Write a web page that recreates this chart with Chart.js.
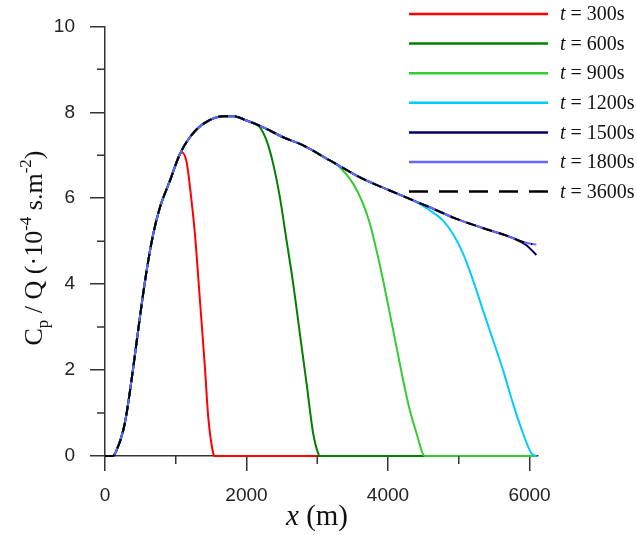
<!DOCTYPE html>
<html>
<head>
<meta charset="utf-8">
<script src="https://cdn.jsdelivr.net/npm/chart.js@4/dist/chart.umd.min.js"></script>
<style>
  body { margin: 0; background: #fff; }
  canvas { display: block; }
</style>
</head>
<body>
<canvas id="bieuDo" width="637" height="535"></canvas>
<script>
// envelope shared by all curves (x in m, y = Cp/Q in 1e-4 s.m-2)
const envX = [0, 110, 165, 258, 306, 400, 494, 589, 682, 777, 918, 1059, 1200, 1388, 1671, 1812, 2001, 2236, 2518, 2801, 3178, 3648, 4025, 4355, 4590, 4967, 5297, 5674, 5908, 6097];
const envY = [0, 0, 0.14, 0.60, 1.0, 2.07, 3.24, 4.32, 5.17, 5.79, 6.41, 7.03, 7.42, 7.73, 7.91, 7.91, 7.81, 7.65, 7.42, 7.23, 6.88, 6.45, 6.18, 5.95, 5.79, 5.52, 5.33, 5.13, 4.98, 4.90];

// where each curve leaves the envelope, and its own tail
const labels = ['300s', '600s', '900s', '1200s', '1500s', '1800s', '3600s'];
const colors = ['#ff0000', '#007f00', '#33cc33', '#00ccff', '#000066', '#6666ff', '#000000'];
const leaveAt = [1059, 2001, 3178, 4355, 5674, 5908, 5908];
const tailX = [
    [1083, 1154, 1201, 1271, 1342, 1412, 1459, 1530, 1554, 6097],
    [2189, 2284, 2377, 2472, 2566, 2660, 2754, 2849, 2942, 3013, 3037, 6097],
    [3319, 3507, 3648, 3743, 3837, 3931, 4025, 4120, 4213, 4308, 4403, 4520, 6097],
    [4590, 4778, 4919, 5061, 5202, 5343, 5484, 5626, 5767, 5908, 6027, 6097],
    [5815, 5960, 6097],
    [6097],
    [6040]
];
const tailY = [
    [7.07, 6.84, 6.26, 5.17, 3.62, 2.07, 0.91, 0.06, 0, 0],
    [7.65, 7.34, 6.80, 6.02, 5.02, 4.01, 2.85, 1.69, 0.53, 0.06, 0, 0],
    [6.72, 6.34, 5.87, 5.41, 4.79, 4.09, 3.32, 2.54, 1.77, 1.07, 0.53, 0, 0],
    [5.72, 5.48, 5.17, 4.71, 4.09, 3.39, 2.70, 2.00, 1.22, 0.53, 0.06, 0],
    [5.04, 4.90, 4.68],
    [4.92],
    [4.93]
];

const xTicks = [0, 2000, 4000, 6000];
const yTicks = [0, 2, 4, 6, 8, 10];
const xMinor = [1000, 3000, 5000];
const yMinor = [1, 3, 5, 7, 9];

function buildSeries(i) {
    let pts = [];
    for (let k = 0; k < envX.length; k++)
        if (envX[k] <= leaveAt[i]) pts.push({x: envX[k], y: envY[k]});
    for (let k = 0; k < tailX[i].length; k++)
        pts.push({x: tailX[i][k], y: tailY[i][k]});
    return pts;
}

const datasets = labels.map((lb, i) => ({
    label: 't = ' + lb,
    data: buildSeries(i),
    borderColor: colors[i],
    backgroundColor: colors[i],
    borderWidth: 2,
    borderDash: i === 6 ? [10, 7] : [],
    pointRadius: 0,
    cubicInterpolationMode: 'monotone',
    fill: false,
    clip: 6,
    order: labels.length - i
}));

const axisColor = '#333';

const decor = {
    id: 'decor',
    afterDraw(chart) {
        const ctx = chart.ctx;
        const xs = chart.scales.x, ys = chart.scales.y;
        const area = chart.chartArea;
        ctx.save();

        // minor ticks
        ctx.strokeStyle = axisColor;
        ctx.lineWidth = 1.5;
        ctx.beginPath();
        xMinor.forEach(v => {
            const px = xs.getPixelForValue(v);
            ctx.moveTo(px, area.bottom);
            ctx.lineTo(px, area.bottom + 8);
        });
        yMinor.forEach(v => {
            const py = ys.getPixelForValue(v);
            ctx.moveTo(area.left, py);
            ctx.lineTo(area.left - 8, py);
        });
        ctx.stroke();

        // legend
        ctx.textBaseline = 'middle';
        ctx.fillStyle = '#111';
        labels.forEach((lb, i) => {
            const y = 14 + i * 29.6;
            ctx.strokeStyle = colors[i];
            ctx.lineWidth = 2.5;
            ctx.setLineDash(i === 6 ? [19, 11] : []);
            ctx.beginPath();
            ctx.moveTo(409, y);
            ctx.lineTo(548, y);
            ctx.stroke();
            ctx.setLineDash([]);
            ctx.font = 'italic 20px "Liberation Serif"';
            ctx.fillText('t', 560, y + 1);
            const w = ctx.measureText('t').width;
            ctx.font = '20px "Liberation Serif"';
            ctx.fillText(' = ' + lb, 560 + w, y + 1);
        });

        // x title
        ctx.textBaseline = 'alphabetic';
        ctx.font = 'italic 29px "Liberation Serif"';
        const xw1 = ctx.measureText('x').width;
        ctx.font = '29px "Liberation Serif"';
        const xw2 = ctx.measureText(' (m)').width;
        let sx = 317 - (xw1 + xw2) / 2;
        ctx.font = 'italic 29px "Liberation Serif"';
        ctx.fillText('x', sx, 525);
        ctx.font = '29px "Liberation Serif"';
        ctx.fillText(' (m)', sx + xw1, 525);

        // y title with sub/superscripts
        const parts = [
            {t: 'C', f: 26, dy: 0},
            {t: 'p', f: 17, dy: 6},
            {t: ' / Q (\u00b710', f: 26, dy: 0},
            {t: '-4', f: 17, dy: -11},
            {t: ' s.m', f: 26, dy: 0},
            {t: '-2', f: 17, dy: -11},
            {t: ')', f: 26, dy: 0}
        ];
        let total = 0;
        parts.forEach(p => {
            ctx.font = p.f + 'px "Liberation Serif"';
            p.w = ctx.measureText(p.t).width;
            total += p.w;
        });
        ctx.translate(42, 248);
        ctx.rotate(-Math.PI / 2);
        let cx = -total / 2;
        parts.forEach(p => {
            ctx.font = p.f + 'px "Liberation Serif"';
            ctx.fillText(p.t, cx, p.dy);
            cx += p.w;
        });
        ctx.restore();
    }
};

const config = {
    type: 'line',
    data: {datasets: datasets},
    options: {
        responsive: false,
        animation: false,
        devicePixelRatio: 1,
        layout: {padding: {top: 26, right: 99, bottom: 0, left: 0}},
        plugins: {legend: {display: false}, tooltip: {enabled: false}},
        scales: {
            x: {
                type: 'linear',
                min: 0,
                max: 6120,
                afterBuildTicks: s => { s.ticks = xTicks.map(v => ({value: v})); },
                afterFit: s => { s.height = 79; },
                ticks: {
                    font: {family: '"Liberation Sans"', size: 19},
                    color: '#222',
                    padding: 13,
                    maxRotation: 0,
                    callback: v => String(v)
                },
                grid: {drawOnChartArea: false, drawTicks: true, tickLength: 15, color: axisColor, lineWidth: 1.5},
                border: {display: true, color: axisColor, width: 1.5}
            },
            y: {
                type: 'linear',
                min: 0,
                max: 10,
                afterBuildTicks: s => { s.ticks = yTicks.map(v => ({value: v})); },
                afterFit: s => { s.width = 105; },
                ticks: {
                    font: {family: '"Liberation Sans"', size: 19},
                    color: '#222',
                    padding: 15,
                    callback: v => String(v)
                },
                grid: {drawOnChartArea: false, drawTicks: true, tickLength: 15, color: axisColor, lineWidth: 1.5},
                border: {display: true, color: axisColor, width: 1.5}
            }
        }
    },
    plugins: [decor]
};

let bieuDo = document.getElementById('bieuDo').getContext('2d');
new Chart(bieuDo, config);
</script>
</body>
</html>
